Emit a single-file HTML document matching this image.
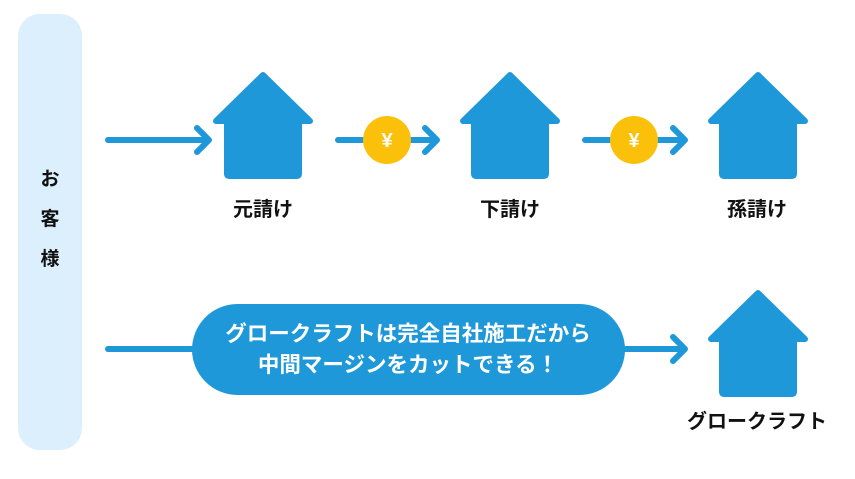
<!DOCTYPE html>
<html><head><meta charset="utf-8"><style>
body{margin:0;width:855px;height:474px;background:#fff;overflow:hidden;font-family:"Liberation Sans","Noto Sans CJK JP",sans-serif;}
</style></head><body>
<svg width="855" height="474" viewBox="0 0 855 474" xmlns="http://www.w3.org/2000/svg">
<defs>
<g id="house">
<path d="M50 3 L97 49 L86 49 L86 102 Q86 104 84 104 L16 104 Q14 104 14 102 L14 49 L3 49 Z" fill="#1f98d9" stroke="#1f98d9" stroke-width="6" stroke-linejoin="round"/>
</g>
<g id="arr" fill="none" stroke="#1f98d9" stroke-width="6" stroke-linecap="round" stroke-linejoin="round">
<path d="M-12 -12 L0 0 L-12 12"/>
</g>
</defs>
<rect x="18" y="14" width="64" height="436" rx="22" fill="#dbeffd"/>
<g font-size="19" font-weight="bold" fill="#111" text-anchor="middle">
<text x="50" y="185">お</text><text x="50" y="225">客</text><text x="50" y="265">様</text>
</g>
<g stroke="#1f98d9" stroke-width="6" stroke-linecap="round">
<line x1="108" y1="140" x2="208" y2="140"/>
<line x1="338" y1="140" x2="436" y2="140"/>
<line x1="585" y1="140" x2="684" y2="140"/>
<line x1="108" y1="349" x2="684" y2="349"/>
</g>
<use href="#arr" x="209" y="140"/><use href="#arr" x="437" y="140"/><use href="#arr" x="685" y="140"/><use href="#arr" x="685" y="349"/>
<circle cx="387" cy="140" r="24" fill="#fbc10a"/>
<circle cx="634" cy="140" r="24" fill="#fbc10a"/>
<g font-size="20" font-weight="bold" fill="#fff" text-anchor="middle">
<text x="387" y="147">¥</text><text x="634" y="147">¥</text>
</g>
<use href="#house" x="213" y="72"/>
<use href="#house" x="460" y="72"/>
<use href="#house" x="708" y="72"/>
<use href="#house" x="708" y="290"/>
<g font-size="20" font-weight="bold" fill="#111" text-anchor="middle">
<text x="263" y="216">元請け</text>
<text x="510" y="216">下請け</text>
<text x="757" y="216">孫請け</text>
<text x="757" y="428">グロークラフト</text>
</g>
<rect x="192" y="304" width="433" height="91" rx="45.5" fill="#1f98d9"/>
<g font-size="21.5" font-weight="bold" fill="#fff" text-anchor="middle">
<text x="408" y="341">グロークラフトは完全自社施工だから</text>
<text x="408" y="372">中間マージンをカットできる！</text>
</g>
</svg>
</body></html>
